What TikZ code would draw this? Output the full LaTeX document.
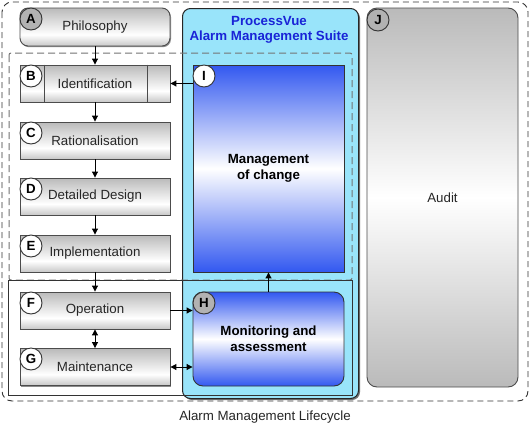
\documentclass[tikz,border=0pt]{standalone}
\usepackage{fontspec}
\setmainfont{Liberation Sans}
\usetikzlibrary{arrows.meta,shadows}
\definecolor{suite}{RGB}{153,228,250}
\definecolor{suitetext}{RGB}{25,35,215}
\definecolor{mblue}{RGB}{50,88,240}
\definecolor{boxgray}{RGB}{186,186,186}
\definecolor{tagfill}{RGB}{178,178,178}
\pgfdeclareverticalshading{stageshade}{100bp}{color(0bp)=(boxgray!80); color(25bp)=(boxgray!80);
  color(40bp)=(white); color(75bp)=(boxgray); color(100bp)=(boxgray)}
\pgfdeclareverticalshading{blueshade}{100bp}{color(0bp)=(mblue); color(25bp)=(mblue);
  color(50bp)=(white); color(75bp)=(mblue); color(100bp)=(mblue)}
\begin{document}
\begin{tikzpicture}[x=1pt,y=-1pt,
  txt/.style={font=\fontsize{13.3}{15}\selectfont},
  stage/.style={txt, draw=black!70, line width=0.9pt, minimum width=150pt, minimum height=37pt,
    inner sep=0pt, shading=stageshade, text=black!85,
    drop shadow={shadow xshift=1pt, shadow yshift=-1.2pt, fill=black!45, opacity=1}},
  tag/.style={circle, draw=black!80, fill=white, line width=0.9pt, minimum size=22pt, inner sep=0pt,
    font=\bfseries\fontsize{13.3}{15}\selectfont},
  graytag/.style={tag, fill=tagfill},
  bluebox/.style={draw=black!80, line width=0.9pt, minimum width=151pt, inner sep=0pt,
    shading=blueshade, align=center,
    font=\bfseries\fontsize{13.3}{16}\selectfont},
  arr/.style={-{Triangle[length=6pt,width=6pt]}, line width=1pt},
  darr/.style={{Triangle[length=6pt,width=6pt]}-{Triangle[length=6pt,width=6pt]}, line width=1pt}
]
\useasboundingbox (0,0) rectangle (530,429);
\fill[white] (0,0) rectangle (530,429);

% outer lifecycle frame
\draw[black!80, line width=0.9pt, dash pattern=on 6pt off 4pt, rounded corners=10pt] (2,2) rectangle (528,401);

% ProcessVue suite panel
\node[draw=black!85, line width=1pt, fill=suite, rounded corners=8pt, minimum width=176pt,
  minimum height=390pt, anchor=north west, inner sep=0pt,
  drop shadow={shadow xshift=1.5pt, shadow yshift=-1.5pt, fill=black!55, opacity=1}] (suite) at (182,8) {};
\node[font=\bfseries\fontsize{13.3}{15}\selectfont, text=suitetext, align=center] (title) at (269,29.5)
  {ProcessVue\\Alarm Management Suite};

% inner dashed region and operations region
\draw[black!55, line width=1pt, dash pattern=on 7pt off 4pt, rounded corners=2pt] (9,53) rectangle (352,280);
\draw[black!80, line width=0.8pt] (8,280) rectangle (352,395);

% lifecycle stages
\node[stage, rounded corners=8pt, minimum height=38pt] (phil) at (95,27) {Philosophy};
\node[stage] (B) at (95,83.5) {Identification};
\draw[black!70, line width=0.9pt] ([xshift=25pt]B.north west) -- ([xshift=25pt]B.south west);
\draw[black!70, line width=0.9pt] ([xshift=-23pt]B.north east) -- ([xshift=-23pt]B.south east);
\node[stage] (C) at (95,140.5) {Rationalisation};
\node[stage] (D) at (95,196.5) {Detailed Design};
\node[stage] (E) at (95,253.5) {Implementation};
\node[stage] (F) at (95,310.5) {Operation};
\node[stage] (G) at (95,367) {Maintenance};

% suite modules
\node[bluebox, minimum height=207pt] (moc) at (268.5,168.5) {Management\\of change};
\node[bluebox, rounded corners=10pt, minimum height=94pt] (mon) at (268.5,339) {Monitoring and\\assessment};

% audit
\node[txt, draw=black!70, line width=0.9pt, rounded corners=10pt, minimum width=151pt, minimum height=379pt,
  top color=boxgray, bottom color=boxgray, middle color=white, text=black!85] (audit) at (442.5,197.5) {Audit};

% connectors
\draw[arr] (phil.south) -- (B.north);
\draw[arr] (B.south) -- (C.north);
\draw[arr] (C.south) -- (D.north);
\draw[arr] (D.south) -- (E.north);
\draw[arr] (E.south) -- (F.north);
\draw[darr] (F.south) -- (G.north);
\draw[arr] (B.east -| moc.west) -- (B.east);
\draw[arr] (F.east) -- (F.east -| mon.west);
\draw[darr] (G.east) -- (G.east -| mon.west);
\draw[arr] (mon.north) -- (moc.south);

% tags
\node[graytag] (tA) at (31,19) {A};
\node[tag] (tB) at (31,76) {B};
\node[tag] (tC) at (31,133) {C};
\node[tag] (tD) at (31,189) {D};
\node[tag] (tE) at (31,246) {E};
\node[tag] (tF) at (31,303) {F};
\node[tag] (tG) at (31,359) {G};
\node[graytag] (tH) at (204,303) {H};
\node[tag] (tI) at (204,76) {I};
\node[graytag] (tJ) at (378,20) {J};

% caption
\node[txt, text=black!85] (cap) at (265,417) {Alarm Management Lifecycle};
\end{tikzpicture}
\end{document}
